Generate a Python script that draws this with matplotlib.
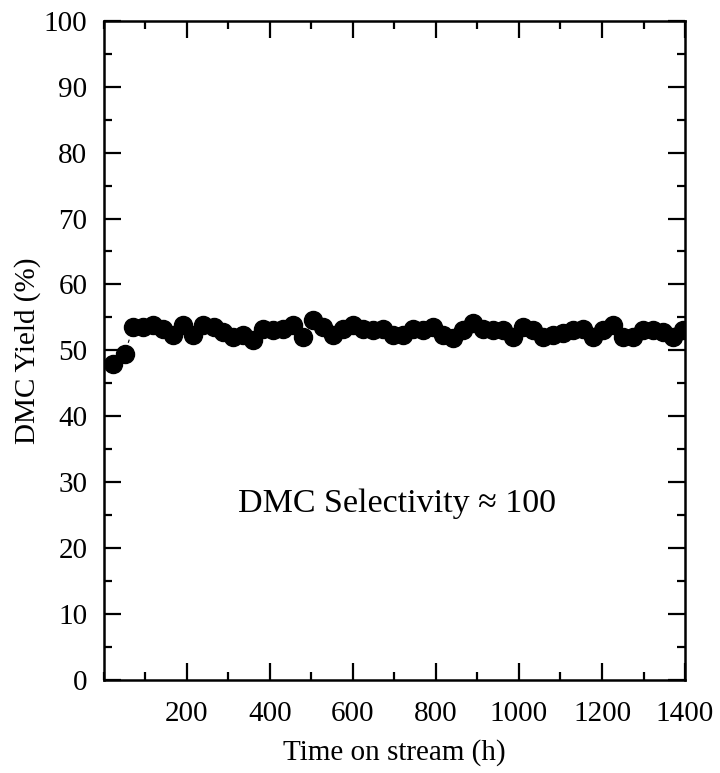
import matplotlib
matplotlib.use("Agg")
import matplotlib.pyplot as plt
from matplotlib.ticker import MultipleLocator, FixedLocator

plt.rcParams['font.family'] = ['Liberation Serif', 'DejaVu Serif']

# time on stream (h)
hours = [22, 50,
         71, 95, 119, 143, 167, 191, 215, 239, 264, 288,
         312, 336, 360, 384, 408, 432, 456, 480, 504, 528,
         552, 576, 600, 624, 648, 672, 697, 721, 745,
         769, 793, 817, 841, 865, 889, 913, 937, 961, 985,
         1009, 1033, 1058, 1082, 1106, 1130, 1154, 1178, 1202, 1226,
         1250, 1274, 1298, 1322, 1346, 1370, 1395]

# DMC yield (%)
yield_pct = [48.0, 49.5,
             53.6, 53.6, 53.8, 53.3, 52.3, 53.8, 52.3, 53.8, 53.6, 52.8,
             52.1, 52.3, 51.6, 53.3, 53.1, 53.3, 53.8, 52.1, 54.6, 53.6,
             52.3, 53.3, 53.8, 53.3, 53.1, 53.3, 52.3, 52.3, 53.3,
             53.1, 53.6, 52.3, 51.8, 53.1, 54.1, 53.3, 53.1, 53.1, 52.1,
             53.6, 53.1, 52.1, 52.3, 52.6, 53.1, 53.3, 52.1, 53.1, 53.8,
             52.1, 52.1, 53.1, 53.1, 52.8, 52.1, 53.1]

x_ticks = [200, 400, 600, 800, 1000, 1200, 1400]
y_ticks = [0, 10, 20, 30, 40, 50, 60, 70, 80, 90, 100]

fig = plt.figure(figsize=(7.2, 7.73), dpi=100)
ax = fig.add_axes([0.1444, 0.1203, 0.8070, 0.8529])

ax.plot(hours, yield_pct, color='black', lw=0.8, ls=(0, (3, 3)),
        marker='o', ms=13, mfc='black', mec='black')

ax.text(323, 26.8, "DMC Selectivity \u2248 100", fontsize=24.5, va='center', ha='left')

ax.set_xlim(0, 1400)
ax.set_ylim(0, 100)
ax.xaxis.set_major_locator(FixedLocator(x_ticks))
ax.xaxis.set_minor_locator(MultipleLocator(100))
ax.set_yticks(y_ticks)
ax.yaxis.set_minor_locator(MultipleLocator(5))

ax.tick_params(which='both', direction='in', top=True, right=True, width=1.6,
               labelsize=21)
ax.tick_params(which='major', length=12)
ax.tick_params(which='minor', length=6)
ax.tick_params(axis='x', which='major', pad=15)
ax.tick_params(axis='y', which='major', pad=12)
for s in ax.spines.values():
    s.set_linewidth(1.8)

ax.set_xlabel("Time on stream (h)", fontsize=21, labelpad=9)
ax.set_ylabel("DMC Yield (%)", fontsize=21, labelpad=2)

fig.savefig("out.png", dpi=100)
